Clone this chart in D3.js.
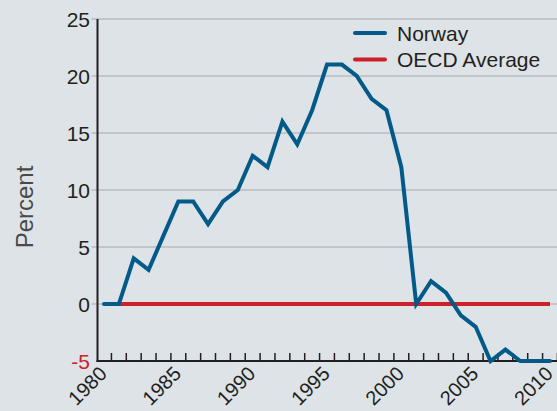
<!DOCTYPE html>
<html>
<head>
<meta charset="utf-8">
<script src="https://cdn.jsdelivr.net/npm/d3@7"></script>
<style>
  body { margin: 0; background: #dde3e7; }
  svg { display: block; font-family: "Liberation Sans", Arial, sans-serif; }
</style>
</head>
<body>
<script>
// data
const years = d3.range(1980, 2011);
const norway = [0, 0, 4, 3, 6, 9, 9, 7, 9, 10, 13, 12, 16, 14, 17, 21, 21, 20, 18, 17, 12,
                0, 2, 1, -1, -2, -5, -4, -5, -5, -5];
const oecd = years.map(() => 0);
const yTicks = [-5, 0, 5, 10, 15, 20, 25];
const xLabels = [1980, 1985, 1990, 1995, 2000, 2005, 2010];
const seriesNames = ['Norway', 'OECD Average'];

const W = 557, H = 411;
const BLUE = '#035a89', RED = '#cc2128', INK = '#231f20', GRID = '#babcbe';
const FS = 21;

const svg = d3.select('body').append('svg')
  .attr('width', W)
  .attr('height', H);

svg.append('rect').attr('width', W).attr('height', H).attr('fill', '#dde3e7');

const x = d3.scaleLinear().domain([1980, 2010]).range([104, 550]);
const y = d3.scaleLinear().domain([-5, 25]).range([361, 19]);
const axisX = 97.5;

// gridlines
svg.append('g')
  .selectAll('line')
  .data(yTicks.filter(d => d > -5))
  .join('line')
  .attr('x1', axisX - 6)
  .attr('x2', W)
  .attr('y1', d => y(d))
  .attr('y2', d => y(d))
  .attr('stroke', GRID)
  .attr('stroke-width', 1.6);

// y axis labels
svg.append('g')
  .selectAll('text')
  .data(yTicks)
  .join('text')
  .attr('x', 90)
  .attr('y', d => y(d))
  .attr('dy', '0.36em')
  .attr('text-anchor', 'end')
  .attr('font-size', FS)
  .attr('fill', d => d < 0 ? RED : INK)
  .text(d => d);

// axes lines
svg.append('line')
  .attr('x1', axisX).attr('x2', axisX)
  .attr('y1', y(25)).attr('y2', y(-5) + 1)
  .attr('stroke', INK).attr('stroke-width', 2);
svg.append('line')
  .attr('x1', axisX - 1).attr('x2', W)
  .attr('y1', y(-5)).attr('y2', y(-5))
  .attr('stroke', INK).attr('stroke-width', 2);

// x ticks between years, pointing up
svg.append('g')
  .selectAll('line')
  .data(years)
  .join('line')
  .attr('x1', d => x(d + 0.5))
  .attr('x2', d => x(d + 0.5))
  .attr('y1', y(-5))
  .attr('y2', y(-5) - 8)
  .attr('stroke', INK)
  .attr('stroke-width', 1.5);

// x labels, rotated
svg.append('g')
  .selectAll('text')
  .data(xLabels)
  .join('text')
  .attr('transform', d => 'translate(' + (x(d) + 4) + ',' + 375 + ') rotate(-45)')
  .attr('text-anchor', 'end')
  .attr('font-size', 20)
  .attr('fill', INK)
  .text(d => d);

// y title
svg.append('text')
  .attr('transform', 'translate(33,207) rotate(-90)')
  .attr('text-anchor', 'middle')
  .attr('font-size', 24)
  .attr('fill', '#4a4a4a')
  .text('Percent');

// lines
const line = d3.line()
  .x((d, i) => x(years[i]))
  .y(d => y(d));

svg.append('path')
  .datum(oecd)
  .attr('d', line)
  .attr('fill', 'none')
  .attr('stroke', RED)
  .attr('stroke-width', 4);

svg.append('path')
  .datum(norway)
  .attr('d', line)
  .attr('fill', 'none')
  .attr('stroke', BLUE)
  .attr('stroke-width', 4)
  .attr('stroke-linejoin', 'miter')
  .attr('stroke-linecap', 'round');

// legend
const legend = svg.append('g')
  .selectAll('g')
  .data(seriesNames)
  .join('g')
  .attr('transform', (d, i) => 'translate(355,' + (33 + i * 26.5) + ')');

legend.append('line')
  .attr('x1', 0).attr('x2', 30)
  .attr('stroke', (d, i) => i === 0 ? BLUE : RED)
  .attr('stroke-width', 4)
  .attr('stroke-linecap', 'round');

legend.append('text')
  .attr('x', 42)
  .attr('dy', '0.36em')
  .attr('font-size', FS)
  .attr('fill', INK)
  .text(d => d);
</script>
</body>
</html>
